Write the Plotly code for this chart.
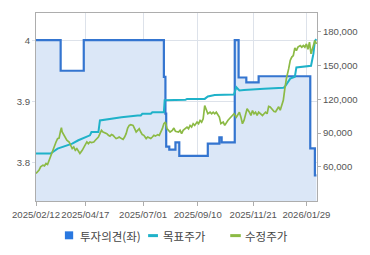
import plotly.graph_objects as go

# ---- data ----
opinion_dates = ["2025-02-12", "2025-03-16", "2025-04-15", "2025-07-28", "2025-07-30", "2025-07-31",
                 "2025-08-04", "2025-08-12", "2025-08-17", "2025-09-23", "2025-10-08", "2025-10-11",
                 "2025-10-28", "2025-11-02", "2025-11-12", "2025-11-28", "2026-02-03", "2026-02-09",
                 "2026-02-11"]
opinion_vals = [4.0, 3.95, 4.0, 3.94, 3.88, 3.826,
                3.821, 3.833, 3.811, 3.831, 3.841, 3.833,
                4.0, 3.939, 3.931, 3.941, 3.823, 3.779,
                3.779]

target_dates = ["2025-02-12", "2025-03-03", "2025-03-12", "2025-03-18", "2025-03-24", "2025-03-31",
                "2025-04-08", "2025-04-17", "2025-04-23", "2025-04-25", "2025-05-04", "2025-05-06",
                "2025-05-15", "2025-05-17", "2025-06-03", "2025-06-24", "2025-06-28", "2025-06-30",
                "2025-07-11", "2025-07-13", "2025-07-28", "2025-07-29", "2025-08-25", "2025-08-27",
                "2025-09-19", "2025-09-23", "2025-10-02", "2025-10-27", "2025-10-30", "2025-11-03",
                "2025-11-09", "2025-12-05", "2025-12-30", "2026-01-01", "2026-01-08", "2026-01-14",
                "2026-01-16", "2026-02-04", "2026-02-07", "2026-02-09", "2026-02-11"]
target_vals = [71800, 71800, 76200, 77600, 79100, 80600,
               83600, 86500, 88000, 90900, 90900, 101200,
               102100, 102700, 104100, 105600, 105600, 107100,
               107100, 108500, 108500, 119200, 119500, 120300,
               120300, 122500, 123700, 124100, 130600, 127700,
               128200, 129200, 130100, 131000, 138300, 140000,
               148200, 149700, 160000, 171800, 173300]

price_dates = [
    "2025-02-12", "2025-02-14", "2025-02-16", "2025-02-18", "2025-02-21", "2025-02-23", "2025-02-25", "2025-02-27",
    "2025-03-01", "2025-03-03", "2025-03-05", "2025-03-07", "2025-03-10", "2025-03-12", "2025-03-14", "2025-03-16",
    "2025-03-17", "2025-03-18", "2025-03-19", "2025-03-21", "2025-03-22", "2025-03-24", "2025-03-27", "2025-03-29",
    "2025-03-31", "2025-04-02", "2025-04-04", "2025-04-06", "2025-04-08", "2025-04-10", "2025-04-13", "2025-04-15",
    "2025-04-17", "2025-04-19", "2025-04-21", "2025-04-23", "2025-04-25", "2025-04-28", "2025-04-30", "2025-05-02",
    "2025-05-04", "2025-05-06", "2025-05-08", "2025-05-10", "2025-05-12", "2025-05-15", "2025-05-17", "2025-05-19",
    "2025-05-21", "2025-05-23", "2025-05-25", "2025-05-27", "2025-05-29", "2025-05-31", "2025-06-03", "2025-06-05",
    "2025-06-07", "2025-06-09", "2025-06-11", "2025-06-13", "2025-06-15", "2025-06-18", "2025-06-20", "2025-06-22",
    "2025-06-24", "2025-06-26", "2025-06-28", "2025-06-30", "2025-07-02", "2025-07-05", "2025-07-07", "2025-07-09",
    "2025-07-11", "2025-07-13", "2025-07-15", "2025-07-17", "2025-07-20", "2025-07-22", "2025-07-24", "2025-07-26",
    "2025-07-28", "2025-07-30", "2025-08-01", "2025-08-03", "2025-08-05", "2025-08-08", "2025-08-10", "2025-08-12",
    "2025-08-14", "2025-08-16", "2025-08-18", "2025-08-20", "2025-08-22", "2025-08-25", "2025-08-27", "2025-08-29",
    "2025-08-31", "2025-09-02", "2025-09-04", "2025-09-06", "2025-09-09", "2025-09-11", "2025-09-13", "2025-09-15",
    "2025-09-17", "2025-09-19", "2025-09-21", "2025-09-23", "2025-09-26", "2025-09-28", "2025-09-30", "2025-10-02",
    "2025-10-04", "2025-10-06", "2025-10-08", "2025-10-10", "2025-10-13", "2025-10-15", "2025-10-17", "2025-10-19",
    "2025-10-21", "2025-10-23", "2025-10-25", "2025-10-27", "2025-10-30", "2025-11-01", "2025-11-03", "2025-11-05",
    "2025-11-07", "2025-11-09", "2025-11-11", "2025-11-13", "2025-11-16", "2025-11-18", "2025-11-20", "2025-11-22",
    "2025-11-24", "2025-11-26", "2025-11-28", "2025-12-01", "2025-12-03", "2025-12-05", "2025-12-07", "2025-12-09",
    "2025-12-11", "2025-12-13", "2025-12-15", "2025-12-18", "2025-12-20", "2025-12-22", "2025-12-24", "2025-12-26",
    "2025-12-28", "2025-12-30", "2026-01-01", "2026-01-03", "2026-01-06", "2026-01-08", "2026-01-10", "2026-01-12",
    "2026-01-14", "2026-01-16", "2026-01-18", "2026-01-21", "2026-01-23", "2026-01-25", "2026-01-27", "2026-01-29",
    "2026-01-31", "2026-02-02", "2026-02-04", "2026-02-07", "2026-02-09", "2026-02-11"]
price_vals = [
    54200, 55600, 57100, 60000, 61500, 60900, 63000, 62100,
    65900, 68800, 73200, 77600, 82100, 85100, 85600, 92400,
    94800, 90900, 89500, 88000, 85100, 83600, 82100, 79100,
    76200, 77600, 74700, 76200, 73200, 71800, 74700, 77600,
    79100, 82100, 80600, 82100, 81500, 82100, 83600, 85100,
    86500, 89500, 92400, 90900, 90300, 89500, 88000, 87300,
    88600, 88000, 86500, 85100, 85600, 86500, 85100, 84400,
    86500, 89500, 94400, 96800, 97400, 96800, 93900, 90900,
    92400, 93900, 90900, 88600, 88000, 85100, 86500, 85600,
    85100, 86500, 88000, 87300, 88600, 88000, 90900, 93900,
    98300, 99700, 93900, 92400, 90900, 92400, 94400, 91500,
    90900, 90900, 92400, 89500, 92400, 93900, 95300, 93900,
    96800, 95300, 98300, 96800, 99700, 98300, 101200, 99700,
    102700, 114400, 110000, 107100, 108500, 107100, 108500, 107100,
    108500, 105600, 104100, 98300, 99700, 96800, 99700, 101200,
    102700, 104100, 105600, 107100, 104100, 107100, 108500, 104100,
    98300, 101200, 107100, 111500, 108500, 105600, 110000, 107100,
    108500, 105600, 108500, 107100, 105600, 107100, 108500, 107100,
    113600, 113100, 111800, 109100, 108900, 111800, 113300, 110300,
    114700, 119100, 129400, 138300, 147100, 154400, 157400, 158800,
    165600, 163200, 166200, 167600, 166200, 167600, 166200, 169100,
    164300, 170600, 160300, 169100, 172100, 169100]

tick_dates = ["2025-02-12", "2025-04-17", "2025-07-01", "2025-09-10", "2025-11-21", "2026-01-29"]
tick_labels = ["2025/02/12", "2025/04/17", "2025/07/01", "2025/09/10", "2025/11/21", "2026/01/29"]
left_ticks = [3.8, 3.9, 4.0]
right_ticks = [60000, 90000, 120000, 150000, 180000]
right_labels = ["60,000", "90,000", "120,000", "150,000", "180,000"]
legend_names = ["투자의견(좌)", "목표주가", "수정주가"]

BLUE = "#3475d0"
BLUE_SQ = "#2a78e0"
CYAN = "#1fb2c9"
GREEN = "#8cba45"
FILL = "#dbe7f7"
GRID = "#dde2ea"
BORDER = "#adadad"

fig = go.Figure()
fig.add_trace(go.Scatter(x=opinion_dates, y=opinion_vals, mode="lines", line=dict(color=BLUE, width=2.2, shape="hv"),
                         fill="tozeroy", fillcolor=FILL, yaxis="y", showlegend=False, name=legend_names[0]))
fig.add_trace(go.Scatter(x=target_dates, y=target_vals, mode="lines", line=dict(color=CYAN, width=2),
                         yaxis="y2", showlegend=False, name=legend_names[1]))
fig.add_trace(go.Scatter(x=price_dates, y=price_vals, mode="lines", line=dict(color=GREEN, width=1.7),
                         yaxis="y2", showlegend=False, name=legend_names[2]))

tickfont = dict(family="Liberation Sans, Arial, sans-serif", size=9.6, color="#555555")

fig.update_layout(
    width=370, height=255,
    margin=dict(l=33, r=52, t=12, b=54),
    paper_bgcolor="white", plot_bgcolor="white",
    xaxis=dict(type="date", range=["2025-02-12", "2026-02-11 18:00"],
               tickvals=tick_dates, ticktext=tick_labels, tickfont=tickfont, tickangle=0,
               showgrid=True, gridcolor=GRID, gridwidth=1,
               showline=True, linecolor=BORDER, linewidth=1, mirror=True,
               ticks="outside", ticklen=4, tickcolor=BORDER, zeroline=False),
    yaxis=dict(range=[3.7371, 4.0444], tickvals=left_ticks, tickfont=tickfont,
               showgrid=True, gridcolor=GRID, gridwidth=1,
               showline=True, linecolor=BORDER, linewidth=1, mirror=True,
               ticks="outside", ticklen=3, tickcolor=GRID, zeroline=False),
    yaxis2=dict(range=[29727, 196500], tickvals=right_ticks, ticktext=right_labels, tickfont=tickfont,
                overlaying="y", side="right", showgrid=False, zeroline=False,
                showline=True, linecolor=BORDER, linewidth=1,
                ticks="outside", ticklen=3, tickcolor=BORDER),
    showlegend=False,
)

# manual legend (paper coordinates)
def px_to_paper_x(px):
    return (px - 33) / 285.0

def px_to_paper_y(py):
    return (201 - py) / 189.0

legfont = dict(family="Noto Sans CJK KR, sans-serif", size=11.5, color="#444444")
yc = px_to_paper_y(235.8)
fig.add_shape(type="rect", xref="paper", yref="paper",
              x0=px_to_paper_x(62.3), x1=px_to_paper_x(70.7),
              y0=px_to_paper_y(239.5), y1=px_to_paper_y(231.5),
              fillcolor=BLUE_SQ, line=dict(width=0))
fig.add_shape(type="line", xref="paper", yref="paper",
              x0=px_to_paper_x(146.7), x1=px_to_paper_x(156.7), y0=yc, y1=yc,
              line=dict(color=CYAN, width=3))
fig.add_shape(type="line", xref="paper", yref="paper",
              x0=px_to_paper_x(230), x1=px_to_paper_x(240.7), y0=yc, y1=yc,
              line=dict(color=GREEN, width=3))
for name, px in zip(legend_names, [76.0, 160.0, 243.0]):
    fig.add_annotation(text=name, xref="paper", yref="paper", x=px_to_paper_x(px), y=yc,
                       xanchor="left", yanchor="middle", showarrow=False, font=legfont)

fig.write_html("out.html")
